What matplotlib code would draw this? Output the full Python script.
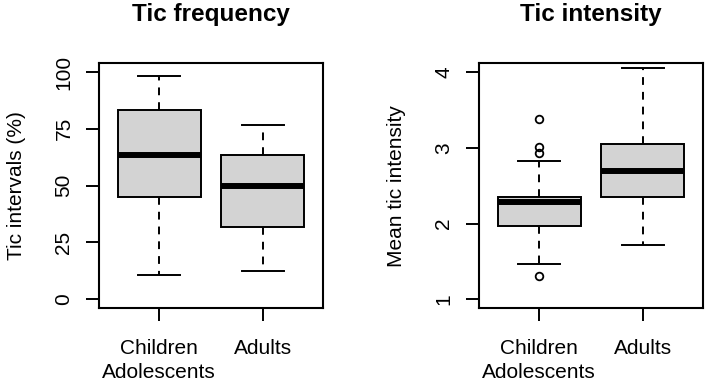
import matplotlib.pyplot as plt

plt.rcParams['font.family'] = ['Liberation Sans', 'DejaVu Sans']

# values
groups = ['Children\nAdolescents', 'Adults']

# tic frequency (%)
freq_whislo = [10.6, 12.6]
freq_q1 = [45.1, 32.0]
freq_med = [63.4, 49.8]
freq_q3 = [83.4, 63.7]
freq_whishi = [98.2, 76.6]
freq_fliers = [[], []]

# tic intensity
int_whislo = [1.46, 1.72]
int_q1 = [1.97, 2.35]
int_med = [2.28, 2.69]
int_q3 = [2.35, 3.05]
int_whishi = [2.82, 4.05]
int_fliers = [[3.38, 3.01, 2.93, 1.31], []]


def make_stats(whislo, q1, med, q3, whishi, fliers):
    stats = []
    for i in range(len(groups)):
        stats.append({
            'whislo': whislo[i], 'q1': q1[i], 'med': med[i],
            'q3': q3[i], 'whishi': whishi[i], 'fliers': fliers[i],
        })
    return stats


def draw_box(ax, stats, title, ylabel, ylim, yticks):
    lw = 1.4
    ax.bxp(
        stats, positions=[1, 2], widths=0.8, capwidths=0.4,
        patch_artist=True, showfliers=True,
        boxprops=dict(facecolor='#d3d3d3', edgecolor='black', linewidth=lw),
        medianprops=dict(color='black', linewidth=4.3, solid_capstyle='butt'),
        whiskerprops=dict(color='black', linewidth=lw, linestyle=(0, (4, 3.6))),
        capprops=dict(color='black', linewidth=lw),
        flierprops=dict(marker='o', markerfacecolor='none',
                        markeredgecolor='black', markersize=5.5,
                        markeredgewidth=1.3),
    )
    ax.set_xlim(0.42, 2.58)
    # R style: 4% padding around the fixed ylim
    pad = (ylim[1] - ylim[0]) * 0.04
    ax.set_ylim(ylim[0] - pad, ylim[1] + pad)
    ax.set_yticks(yticks)
    ax.set_yticklabels([str(t) for t in yticks], rotation=90, va='center')
    ax.set_xticks([1, 2])
    ax.set_xticklabels(groups, fontsize=15, linespacing=1.3)
    ax.tick_params(axis='both', length=9.4, width=1.4, labelsize=15,
                   color='black')
    ax.tick_params(axis='x', pad=13)
    ax.tick_params(axis='y', pad=9)
    for s in ax.spines.values():
        s.set_linewidth(1.5)
    ax.set_title(title, fontsize=17.5, fontweight='bold', pad=30)
    ax.set_ylabel(ylabel, fontsize=15)
    ax.yaxis.set_label_coords(-0.325, 0.5)


fig = plt.figure(figsize=(7.08, 3.83), dpi=100)
ax1 = fig.add_axes([99 / 708, 74.7 / 383, 224 / 708, 245.3 / 383])
ax2 = fig.add_axes([479 / 708, 74.7 / 383, 224 / 708, 245.3 / 383])

draw_box(ax1, make_stats(freq_whislo, freq_q1, freq_med, freq_q3,
                         freq_whishi, freq_fliers),
         'Tic frequency', 'Tic intervals (%)', (0, 100), [0, 25, 50, 75, 100])
draw_box(ax2, make_stats(int_whislo, int_q1, int_med, int_q3,
                         int_whishi, int_fliers),
         'Tic intensity', 'Mean tic intensity', (1, 4), [1, 2, 3, 4])

fig.savefig('out.png', dpi=100)
